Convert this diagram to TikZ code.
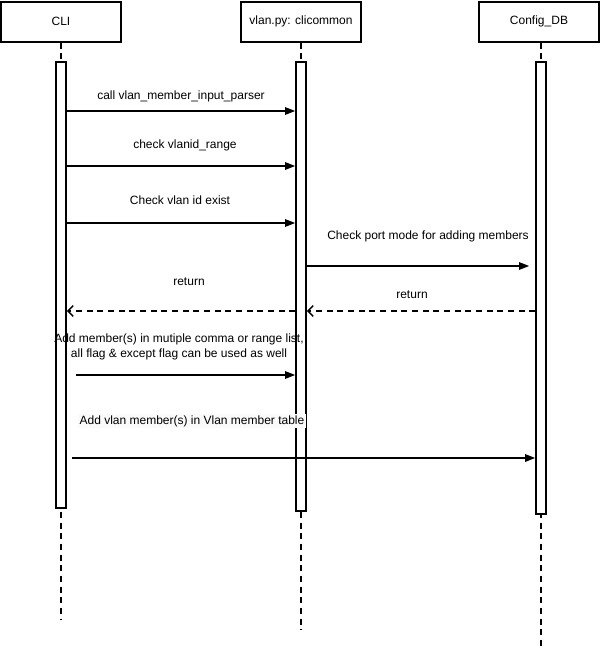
\documentclass[tikz,border=0pt]{standalone}
\usepackage{fontspec}
\setmainfont{Liberation Sans}
\usetikzlibrary{arrows.meta}
\begin{document}
\begin{tikzpicture}[x=0.75pt,y=-0.75pt,
  font=\fontsize{9pt}{11.5pt}\selectfont,
  actor/.style={draw,line width=1.15pt,minimum width=90pt,minimum height=30pt,inner sep=0pt,anchor=north},
  bar/.style={draw,line width=1.15pt,fill=white,minimum width=7.5pt,inner sep=0pt,anchor=north},
  life/.style={line width=1.15pt,dash pattern=on 4.5pt off 3.5pt},
  msg/.style={line width=1.15pt,-{Triangle[length=7.5pt,width=5.5pt]}},
  ret/.style={line width=1.15pt,dash pattern=on 4.5pt off 3.5pt,-{Straight Barb[length=4pt,width=8pt,line width=1.15pt]}},
  lbl/.style={inner sep=0pt,align=center}]
\useasboundingbox (0,0) rectangle (602,653);

% participants
\node[actor] (cli) at (61,1) {CLI};
\node[actor] (vlan) at (301,1) {vlan.py: clicommon};
\node[actor] (cfg) at (539,1) {Config\_DB};

% lifeline tails
\coordinate (cliEnd) at (61,620);
\coordinate (vlanEnd) at (301,630);
\coordinate (cfgEnd) at (541,650);
\draw[life] (cli.south) -- (cliEnd);
\draw[life] (vlan.south) -- (vlanEnd);
\draw[life] (cfg.south -| cfgEnd) -- (cfgEnd);

% activation bars
\node[bar,minimum height=334.5pt] (cliBar) at (61,61) {};
\node[bar,minimum height=336.75pt] (vlanBar) at (301,61) {};
\node[bar,minimum height=339pt] (cfgBar) at (541,61) {};

% message rows
\coordinate (m1) at (0,111);
\coordinate (m2) at (0,166);
\coordinate (m3) at (0,223);
\coordinate (m4) at (0,266);
\coordinate (m5) at (0,311);
\coordinate (m7) at (0,375);
\coordinate (m8) at (0,458);

\draw[msg] (cliBar.east |- m1) -- (vlanBar.west |- m1);
\node[lbl] (t1) at (181,96) {call vlan\_member\_input\_parser};

\draw[msg] (cliBar.east |- m2) -- (vlanBar.west |- m2);
\node[lbl] (t2) at (185,145) {check vlanid\_range};

\draw[msg] (cliBar.east |- m3) -- (vlanBar.west |- m3);
\node[lbl] (t3) at (180,200) {Check vlan id exist};

\draw[msg] (vlanBar.east |- m4) -- ([xshift=-4.5pt]cfgBar.west |- m4);
\node[lbl] (t4) at (428,236) {Check port mode for adding members};

\draw[ret] (vlanBar.west |- m5) -- (cliBar.east |- m5);
\node[lbl] (t5) at (189,282) {return};

\draw[ret] (cfgBar.west |- m5) -- (vlanBar.east |- m5);
\node[lbl] (t6) at (412,295) {return};

\draw[msg] ([xshift=6.75pt]cliBar.east |- m7) -- (vlanBar.west |- m7);
\node[lbl] (t7) at (179,347) {Add member(s) in mutiple comma or range list,\\all flag \& except flag can be used as well};

\draw[msg] ([xshift=3.75pt]cliBar.east |- m8) -- (cfgBar.west |- m8);
\node[lbl,fill=gray!4,inner sep=1pt] (t8) at (192,421) {Add vlan member(s) in Vlan member table};
\end{tikzpicture}
\end{document}
